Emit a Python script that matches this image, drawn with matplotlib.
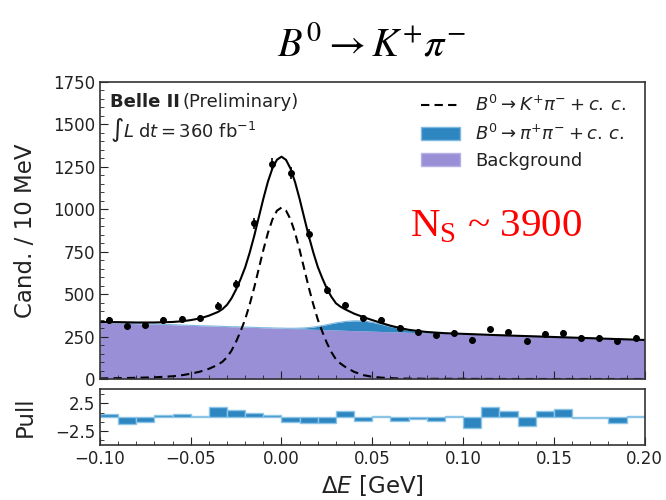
import matplotlib
matplotlib.use("Agg")
import matplotlib.pyplot as plt
from matplotlib.ticker import MultipleLocator, AutoMinorLocator
from matplotlib.patches import Patch
from matplotlib.lines import Line2D
import numpy as np

# data points, 10 MeV bins
bin_centers = [-0.095, -0.085, -0.075, -0.065, -0.055, -0.045, -0.035, -0.025, -0.015, -0.005,
               0.005, 0.015, 0.025, 0.035, 0.045, 0.055, 0.065, 0.075, 0.085, 0.095,
               0.105, 0.115, 0.125, 0.135, 0.145, 0.155, 0.165, 0.175, 0.185, 0.195]
counts = [345, 313, 319, 345, 355, 361, 432, 562, 917, 1265,
          1212, 857, 526, 434, 357, 345, 300, 276, 260, 270,
          232, 292, 274, 226, 264, 272, 242, 241, 223, 241]
errors = np.sqrt(counts)

# pull per bin
pull = [0.54, -1.13, -0.77, 0.42, 0.65, 0.18, 1.9, 1.37, 0.83, 0.36,
        -0.77, -1.07, -1.07, 1.07, -0.65, 0.3, -0.6, -0.24, -0.6, 0.24,
        -1.85, 1.9, 1.07, -1.55, 1.07, 1.55, -0.06, -0.12, -1.0, 0.18]
bin_edges_left = [round(c - 0.005, 3) for c in bin_centers]

# fit components
curve_x = [-0.100, -0.090, -0.080, -0.070, -0.060, -0.055, -0.050, -0.045, -0.040, -0.035,
           -0.0325, -0.030, -0.0275, -0.025, -0.0225, -0.020, -0.0175, -0.015, -0.0125, -0.010,
           -0.0075, -0.005, -0.0025, 0.000, 0.0025, 0.005, 0.0075, 0.010, 0.0125, 0.015,
           0.0175, 0.020, 0.0225, 0.025, 0.0275, 0.030, 0.0325, 0.035, 0.040, 0.045,
           0.050, 0.055, 0.060, 0.065, 0.070, 0.075, 0.080, 0.090, 0.100, 0.120,
           0.140, 0.160, 0.180, 0.200]
sig_kpi = [3, 5, 7, 10, 16, 22, 31, 43, 60, 84,
           102, 128, 168, 220, 282, 352, 440, 540, 650, 760,
           860, 940, 992, 1010, 992, 940, 860, 760, 650, 540,
           440, 350, 278, 212, 158, 115, 91, 72, 42, 23,
           13, 8, 5, 3, 2, 2, 1, 1, 1, 0,
           0, 0, 0, 0]
bkg_pipi = [0, 0, 0, 0, 0, 0, 0, 0, 0, 0,
            0, 0, 0, 0, 0, 0, 0, 0, 0, 0,
            0, 0, 0, 1, 1, 2, 3, 4, 6, 9,
            13, 18, 24, 30, 36, 42, 47, 52, 58, 58,
            52, 42, 31, 21, 13, 8, 4, 1, 0, 0,
            0, 0, 0, 0]
bkg_comb = [333, 330, 326, 323, 320, 318, 316, 314, 313, 311,
            310, 309, 308, 308, 307, 306, 305, 304, 303, 302,
            302, 301, 300, 299, 298, 297, 296, 296, 295, 294,
            293, 292, 291, 290, 290, 289, 288, 287, 285, 284,
            282, 280, 278, 277, 275, 273, 272, 268, 265, 258,
            251, 244, 237, 230]

purple = "#998fd6"
blue = "#2e86c1"
txt = "#222222"

cx = np.array(curve_x)
comb = np.array(bkg_comb)
pipi_top = comb + np.array(bkg_pipi)
total = pipi_top + np.array(sig_kpi)

fig = plt.figure(figsize=(6.66, 5), dpi=100)
ax = fig.add_axes([0.150, 0.242, 0.818, 0.594])
axp = fig.add_axes([0.150, 0.110, 0.818, 0.112])

ax.fill_between(cx, 0, comb, color=purple, lw=0)
ax.fill_between(cx, comb, pipi_top, color=blue, lw=0)
ax.plot(cx, pipi_top, color="#7fb8e0", lw=0.8)
ax.plot(cx, sig_kpi, color="black", ls=(0, (4, 2.5)), lw=1.5)
ax.plot(cx, total, color="black", lw=1.5)
ax.errorbar(bin_centers, counts, yerr=errors, fmt="o", color="black",
            markersize=4, elinewidth=1.2, capsize=0)

ax.set_xlim(-0.1, 0.2)
ax.set_ylim(0, 1750)
ax.yaxis.set_major_locator(MultipleLocator(250))
ax.yaxis.set_minor_locator(AutoMinorLocator(5))
ax.xaxis.set_major_locator(MultipleLocator(0.05))
ax.xaxis.set_minor_locator(MultipleLocator(0.01))
ax.tick_params(which="both", direction="in", labelsize=12, colors=txt)
ax.tick_params(which="major", length=6)
ax.tick_params(which="minor", length=3)
ax.tick_params(axis="x", labelbottom=False)
ax.set_ylabel("Cand. / 10 MeV", fontsize=16.5, color=txt)
for s in ax.spines.values():
    s.set_linewidth(1.2)
    s.set_color("#333333")

belle = ax.text(0.018, 0.933, "Belle II", transform=ax.transAxes, fontsize=13,
                fontweight="bold", va="center", color=txt)
ax.annotate("(Preliminary)", xy=(1, 0.5), xycoords=belle, xytext=(2, 0),
            textcoords="offset points", va="center", fontsize=13, color=txt)
ax.text(0.018, 0.84, r"$\int L\;\mathrm{d}t = 360$ fb$^{-1}$", transform=ax.transAxes,
        fontsize=13, va="center", color=txt)
ax.text(0.569, 0.479, r"N$_\mathregular{S}$ ~ 3900", transform=ax.transAxes,
        fontsize=29.5, color="red", family="Liberation Serif", va="baseline")

handles = [Line2D([], [], color="black", ls=(0, (4, 2.5)), lw=1.5),
           Patch(facecolor=blue, edgecolor="#7fb8e0"),
           Patch(facecolor=purple, edgecolor="#b8b0e8")]
labels = [r"$B^0 \to K^{+}\pi^{-} + c.\,c.$",
          r"$B^0 \to \pi^{+}\pi^{-} + c.\,c.$",
          "Background"]
leg = ax.legend(handles, labels, loc="upper right", frameon=False, fontsize=13,
                handlelength=2.2, labelspacing=0.45, bbox_to_anchor=(0.995, 1.01))
for t in leg.get_texts():
    t.set_color(txt)

fig.text(0.557, 0.912, r"$B^0 \rightarrow K^{+}\pi^{-}$", fontsize=29, ha="center",
         va="center", math_fontfamily="stix")

# pull panel
axp.bar(bin_edges_left, pull, width=0.01, align="edge", color=blue,
        edgecolor="#8cc4e8", linewidth=1)
axp.set_xlim(-0.1, 0.2)
axp.set_ylim(-5, 5.1)
axp.set_yticks([-2.5, 2.5])
axp.yaxis.set_minor_locator(AutoMinorLocator(3))
axp.xaxis.set_major_locator(MultipleLocator(0.05))
axp.xaxis.set_minor_locator(MultipleLocator(0.01))
axp.tick_params(which="both", direction="in", labelsize=12, colors=txt)
axp.tick_params(which="major", length=6)
axp.tick_params(which="minor", length=3)
axp.set_ylabel("Pull", fontsize=16.5, color=txt)
axp.set_xlabel(r"$\Delta E$ [GeV]", fontsize=16.5, color=txt)
for s in axp.spines.values():
    s.set_linewidth(1.2)
    s.set_color("#333333")
axp.yaxis.set_label_coords(-0.115, 0.5)
ax.yaxis.set_label_coords(-0.115, 0.5)

fig.savefig("out.png", dpi=100)
